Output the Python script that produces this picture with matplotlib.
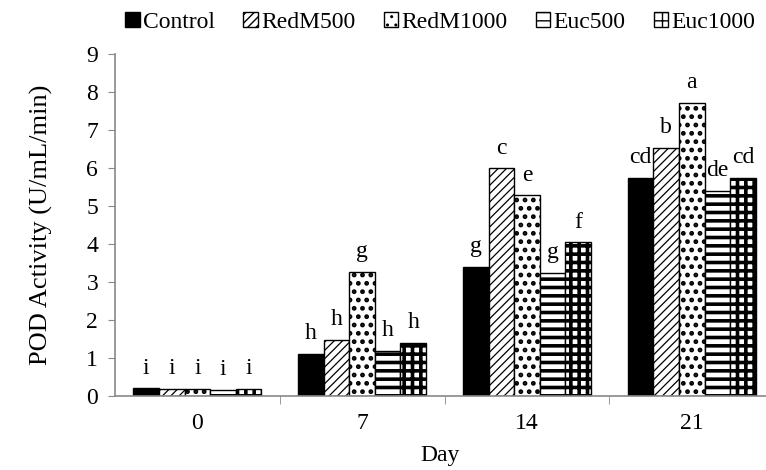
import numpy as np
import matplotlib
matplotlib.use("Agg")
import matplotlib.pyplot as plt
from matplotlib.patches import Patch

days = ["0", "7", "14", "21"]
series = ["Control", "RedM500", "RedM1000", "Euc500", "Euc1000"]

control = [0.20, 1.10, 3.39, 5.75]
redm500 = [0.18, 1.47, 5.99, 6.53]
redm1000 = [0.19, 3.26, 5.28, 7.72]
euc500 = [0.16, 1.18, 3.25, 5.40]
euc1000 = [0.19, 1.39, 4.04, 5.74]

letters_control = ["i", "h", "g", "cd"]
letters_redm500 = ["i", "h", "c", "b"]
letters_redm1000 = ["i", "g", "e", "a"]
letters_euc500 = ["i", "h", "g", "de"]
letters_euc1000 = ["i", "h", "f", "cd"]

values = [control, redm500, redm1000, euc500, euc1000]
letters = [letters_control, letters_redm500, letters_redm1000,
           letters_euc500, letters_euc1000]

# fill style per series: (facecolor, hatch, hatch linewidth)
styles = [("black", None, 1.0), ("white", "////", 0.9), ("white", "..", 2.2),
          ("white", "--", 2.6), ("white", "++", 2.6)]

plt.rcParams['font.family'] = ['Liberation Serif', 'DejaVu Serif']

fig = plt.figure(figsize=(7.66, 4.70), dpi=100)
ax = fig.add_axes([0.150, 0.1574, 0.850, 0.7277])

FS = 17


def apply_hatch_lw(patches, lw):
    for p in patches:
        if hasattr(p, "set_hatch_linewidth"):
            p.set_hatch_linewidth(lw)


x = np.arange(len(days))
width = 0.155
for i, (vals, labs) in enumerate(zip(values, letters)):
    fc, hatch, hlw = styles[i]
    pos = x + (i - 2) * width
    with plt.rc_context({'hatch.linewidth': hlw}):
        bars = ax.bar(pos, vals, width, facecolor=fc, edgecolor="black",
                      hatch=hatch, linewidth=1.0)
    apply_hatch_lw(bars, hlw)
    for px, v, lab in zip(pos, vals, labs):
        ax.annotate(lab, (px, v), xytext=(0, 7), textcoords="offset points",
                    ha="center", va="bottom", fontsize=FS)

ax.set_xlim(-0.5, 3.45)
ax.set_ylim(0, 9)
ax.set_yticks(range(0, 10))
ax.set_xticks(x)
ax.set_xticklabels(days)
ax.set_xticks([0.5, 1.5, 2.5], minor=True)
ax.tick_params(axis="x", which="major", length=0, pad=12, labelsize=FS)
ax.tick_params(axis="x", which="minor", length=6, color="#898989")
ax.tick_params(axis="y", length=5, color="#898989", labelsize=FS, pad=7)

for s in ["top", "right"]:
    ax.spines[s].set_visible(False)
for s in ["left", "bottom"]:
    ax.spines[s].set_color("#898989")
    ax.spines[s].set_linewidth(1.2)

ax.set_xlabel("Day", fontsize=FS, labelpad=8)
ax.set_ylabel("POD Activity (U/mL/min)", fontsize=19, labelpad=24)

handles = []
for fc, h, hlw in styles:
    with plt.rc_context({'hatch.linewidth': min(hlw, 1.2)}):
        p = Patch(facecolor=fc, edgecolor="black", hatch=h, linewidth=1.0)
    apply_hatch_lw([p], min(hlw, 1.2))
    handles.append(p)
fig.legend(handles, series, loc="upper center", bbox_to_anchor=(0.575, 1.02),
           ncol=5, frameon=False, fontsize=FS, handlelength=0.6,
           handleheight=0.6, handletextpad=0.15, columnspacing=1.2)

fig.savefig("out.png", dpi=100)
